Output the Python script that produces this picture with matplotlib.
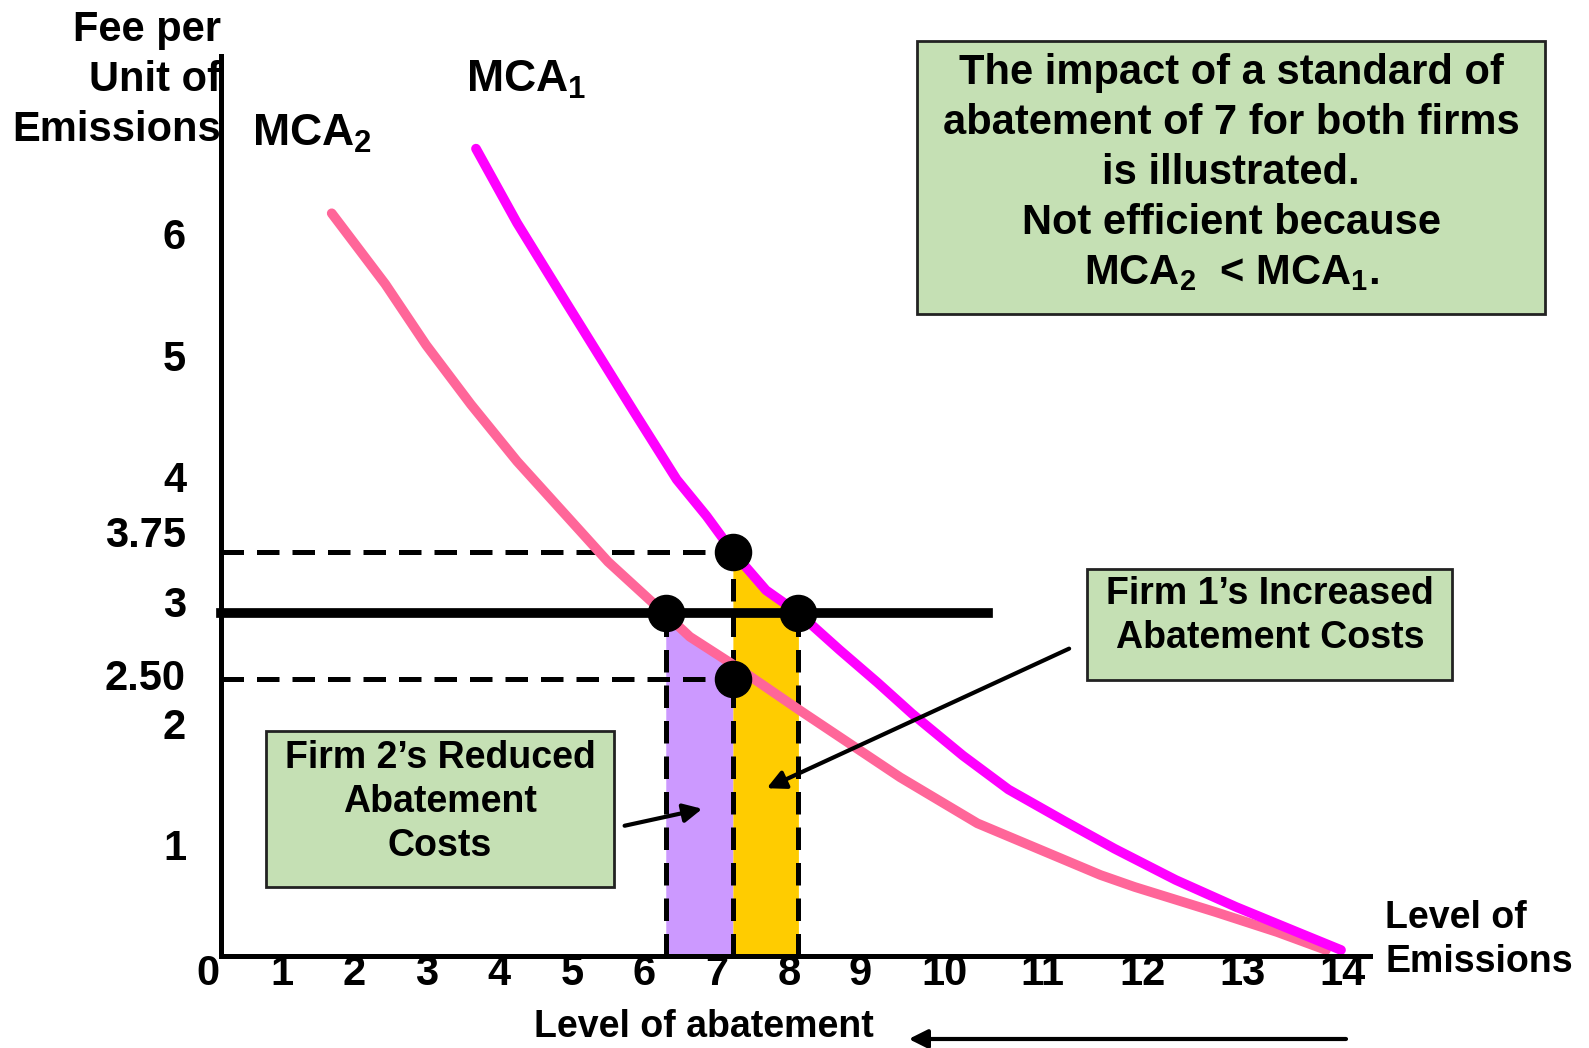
import numpy as np
import matplotlib
matplotlib.use('Agg')
from matplotlib import pyplot as plt
from matplotlib.patches import Rectangle

plt.rcParams['font.family'] = ['Liberation Sans', 'DejaVu Sans']
plt.rcParams['font.weight'] = 'bold'
plt.rcParams['mathtext.default'] = 'regular'

# marginal cost of abatement curves (abatement, fee)
mca1_x = [3.5, 4.07, 4.75, 5.67, 6.27, 6.68, 7.04, 7.5, 7.95, 8.53, 9.05, 9.46, 10.05, 10.52, 11.09, 11.59, 12.2, 12.81, 13.42, 13.86]
mca1_y = [6.79, 6.18, 5.52, 4.64, 4.07, 3.89, 3.75, 3.28, 3.0, 2.72, 2.47, 2.19, 1.83, 1.55, 1.29, 1.06, 0.76, 0.49, 0.24, 0.06]
mca2_x = [1.51, 2.25, 2.81, 3.43, 4.07, 4.75, 5.32, 5.9, 6.1, 6.45, 7.04, 7.97, 9.32, 10.2, 11.45, 11.79, 12.6, 13.22, 13.71]
mca2_y = [6.26, 5.68, 5.18, 4.69, 4.22, 3.89, 3.63, 3.16, 3.0, 2.82, 2.61, 2.22, 1.65, 1.27, 0.81, 0.69, 0.44, 0.24, 0.06]

x_ticks = list(range(15))
y_ticks = [6, 5, 4, 3.75, 3, 2.5, 2, 1]
y_tick_labels = ['6', '5', '4', '3.75', '3', '2.50', '2', '1']

fee = 3.0
standard = 7.04     # abatement standard for both firms
q2_fee = 6.12       # firm 2 at the fee
q1_fee = 7.95       # firm 1 at the fee
fee_hi = 3.75
fee_lo = 2.5
fee_line_end = 10.31

# the slide is not drawn to scale -> piecewise map value -> pixel
x_nodes = [-3.03, 0, 1, 2, 3, 4, 5, 6, 7, 8, 9, 10, 11, 12, 13, 14, 16.34]
x_pix = [0, 221, 295, 367, 440, 512, 585, 657, 730, 802, 873, 958, 1055, 1156, 1255, 1355, 1589]
y_nodes = [-0.92, 0, 1, 2, 2.5, 3, 3.75, 4, 5, 6, 7.55, 8.01]
y_pix = [0, 92, 192, 313, 369, 435, 496, 560, 681, 803, 992, 1048]

fx = lambda v: np.interp(v, x_nodes, x_pix)
fxi = lambda p: np.interp(p, x_pix, x_nodes)
fy = lambda v: np.interp(v, y_nodes, y_pix)
fyi = lambda p: np.interp(p, y_pix, y_nodes)

W, H = 1589, 1048
fig = plt.figure(figsize=(W / 100, H / 100), dpi=100)
ax = fig.add_axes([0, 0, 1, 1])
ax.set_xscale('function', functions=(fx, fxi))
ax.set_yscale('function', functions=(fy, fyi))
ax.set_xlim(x_nodes[0], x_nodes[-1])
ax.set_ylim(y_nodes[0], y_nodes[-1])
ax.axis('off')

def P(x, y):
    # pixel position on the slide -> figure fraction
    return x / W, 1 - y / H

def box(x0, y0, x1, y1):
    fig.add_artist(Rectangle((x0 / W, 1 - y1 / H), (x1 - x0) / W, (y1 - y0) / H,
                             transform=fig.transFigure, fc='#C5E0B4', ec='#222222', lw=2))

FS = 30

# shaded cost changes
xs = np.linspace(q2_fee, standard, 60)
ax.fill_between(xs, 0, np.interp(xs, mca2_x, mca2_y), color='#CC99FF', lw=0, zorder=1)
xs = np.linspace(standard, q1_fee, 60)
ax.fill_between(xs, 0, np.interp(xs, mca1_x, mca1_y), color='#FFCC00', lw=0, zorder=1)

# dashed guides
dash = dict(color='k', lw=3.6, ls=(0, (4.5, 2.6)), zorder=2)
ax.plot([0, standard], [fee_hi, fee_hi], **dash)
ax.plot([0, standard], [fee_lo, fee_lo], **dash)
ax.plot([standard, standard], [0, fee_hi], **dash)
ax.plot([q2_fee, q2_fee], [0, fee], **dash)
ax.plot([q1_fee, q1_fee], [0, fee], **dash)

# curves
ax.plot(mca2_x, mca2_y, color='#FF6699', lw=7, solid_capstyle='round', zorder=3)
ax.plot(mca1_x, mca1_y, color='#FF00FF', lw=7, solid_capstyle='round', zorder=3)

# axes
ax.plot([0, 0], [0, 7.55], color='k', lw=3.6, zorder=4)
ax.plot([0, 14.15], [0, 0], color='k', lw=3.6, zorder=4)
ax.plot([0, fee_line_end], [fee, fee], color='k', lw=7, zorder=4)

ax.plot([standard, q2_fee, q1_fee, standard], [fee_hi, fee, fee, fee_lo], 'o', color='k', ms=26, zorder=6)

# tick labels
for v in x_ticks:
    ax.annotate(str(v), (v, 0), xytext=(-13, -18), textcoords='offset pixels',
                ha='center', va='center', fontsize=FS)
y_dy = [7, 7, 7, 16, 7, 0, 7, 7]
for v, lab, dy in zip(y_ticks, y_tick_labels, y_dy):
    ax.annotate(lab, (0, v), xytext=(-35, dy), textcoords='offset pixels',
                ha='right', va='center', fontsize=FS)

# arrows
arw = dict(arrowstyle='-|>', lw=3, color='k', mutation_scale=28, shrinkA=0, shrinkB=0)
ax.annotate('', xy=(6.62, 1.39), xytext=(5.55, 1.25), arrowprops=arw)
ax.annotate('', xy=(7.51, 1.56), xytext=(11.14, 2.73), arrowprops=arw)
ax.annotate('', xy=(9.42, -0.83), xytext=(13.91, -0.83), arrowprops=arw)

# labels
fig.text(*P(221, 80), 'Fee per\nUnit of\nEmissions', ha='right', va='center',
         multialignment='right', fontsize=FS, linespacing=1.33)
fig.text(*P(466, 80), r'$\mathregular{MCA_1}$', ha='left', va='center', fontsize=FS + 2)
fig.text(*P(252, 134), r'$\mathregular{MCA_2}$', ha='left', va='center', fontsize=FS + 2)
fig.text(*P(1385, 940), 'Level of\nEmissions', ha='left', va='center', fontsize=27, linespacing=1.3)
fig.text(*P(704, 1027), 'Level of abatement', ha='center', va='center', fontsize=27)

box(917, 41, 1545, 314)
fig.text(*P(1231, 173),
         'The impact of a standard of\nabatement of 7 for both firms\nis illustrated.\n'
         'Not efficient because\n' r'$\mathregular{MCA_2}$  < $\mathregular{MCA_1}$.',
         ha='center', va='center', fontsize=FS, linespacing=1.32)
box(1087, 569, 1452, 680)
fig.text(*P(1270, 616), 'Firm 1\u2019s Increased\nAbatement Costs', ha='center', va='center',
         fontsize=27, linespacing=1.3)
box(266, 731, 614, 887)
fig.text(*P(440, 802), 'Firm 2\u2019s Reduced\nAbatement\nCosts', ha='center', va='center',
         fontsize=27, linespacing=1.3)

fig.savefig('out.png', dpi=100)
